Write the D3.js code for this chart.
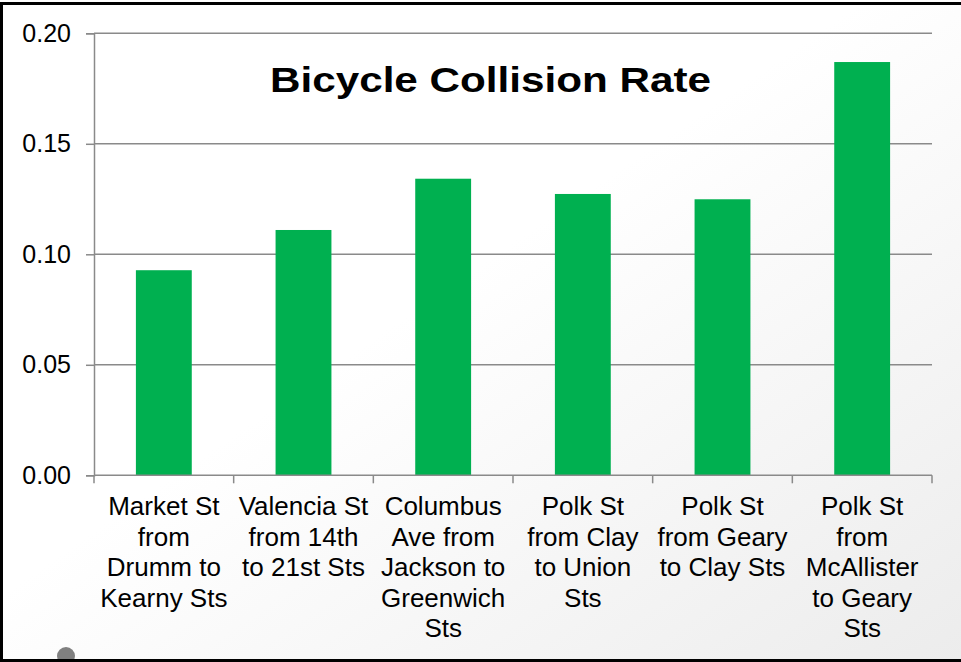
<!DOCTYPE html>
<html>
<head>
<meta charset="utf-8">
<script src="https://cdn.jsdelivr.net/npm/d3@7"></script>
<style>
  html, body { margin: 0; padding: 0; background: #fff; }
  svg { display: block; font-family: "Liberation Sans", Arial, sans-serif; }
</style>
</head>
<body>
<div id="chart"></div>
<script>
// chart data
const categories = [
  ["Market St", "from", "Drumm to", "Kearny Sts"],
  ["Valencia St", "from 14th", "to 21st Sts"],
  ["Columbus", "Ave from", "Jackson to", "Greenwich", "Sts"],
  ["Polk St", "from Clay", "to Union", "Sts"],
  ["Polk St", "from Geary", "to Clay Sts"],
  ["Polk St", "from", "McAllister", "to Geary", "Sts"]
];
const rates = [0.0928, 0.111, 0.1342, 0.1273, 0.1249, 0.187];
const yTicks = [0, 0.05, 0.10, 0.15, 0.20];
const title = "Bicycle Collision Rate";

const width = 961, height = 662;
const margin = {top: 33, right: 29, bottom: 187, left: 94};

const svg = d3.select("#chart").append("svg")
  .attr("width", width)
  .attr("height", height);

// soft diagonal background
let grad = svg.append("defs").append("linearGradient")
  .attr("id", "bg")
  .attr("x1", "0").attr("y1", "0")
  .attr("x2", "1").attr("y2", "1");
grad.append("stop").attr("offset", "0.45").attr("stop-color", "#ffffff");
grad.append("stop").attr("offset", "1").attr("stop-color", "#ececec");

svg.append("rect")
  .attr("width", width).attr("height", height)
  .attr("fill", "url(#bg)");

let x = d3.scaleBand()
  .domain(d3.range(categories.length))
  .range([margin.left, width - margin.right])
  .paddingInner(0.6)
  .paddingOuter(0.3);

let y = d3.scaleLinear()
  .domain([0, 0.2])
  .range([height - margin.bottom + 0.3, margin.top + 0.3]);

// gridlines
svg.append("g")
  .selectAll("line")
  .data(yTicks.slice(1))
  .join("line")
  .attr("x1", margin.left)
  .attr("x2", width - margin.right)
  .attr("y1", d => y(d))
  .attr("y2", d => y(d))
  .attr("stroke", "#8a8a8a")
  .attr("stroke-width", 1.5);

// y axis
let yAxis = svg.append("g")
  .attr("transform", `translate(${margin.left},0)`)
  .call(d3.axisLeft(y).tickValues(yTicks).tickFormat(d3.format(".2f")).tickSize(8).tickPadding(15));
yAxis.select(".domain").attr("stroke", "#8a8a8a").attr("stroke-width", 1.5);
yAxis.selectAll(".tick line").attr("stroke", "#8a8a8a").attr("stroke-width", 1.5);
yAxis.selectAll(".tick text")
  .attr("fill", "#000")
  .style("font-size", "25px")
  .style("font-family", "Liberation Sans, Arial, sans-serif");

// bars
svg.append("g")
  .selectAll("rect")
  .data(rates)
  .join("rect")
  .attr("x", (d, i) => x(i))
  .attr("y", d => y(d))
  .attr("width", x.bandwidth())
  .attr("height", d => y(0) - y(d))
  .attr("fill", "#00b050");

// x axis
let step = (width - margin.right - margin.left) / categories.length;
let xBounds = d3.range(categories.length + 1).map(i => margin.left + i * step);
let xAxis = svg.append("g");
xAxis.append("line")
  .attr("x1", margin.left).attr("x2", width - margin.right)
  .attr("y1", y(0)).attr("y2", y(0))
  .attr("stroke", "#8a8a8a").attr("stroke-width", 1.5);
xAxis.selectAll(".xtick")
  .data(xBounds)
  .join("line")
  .attr("class", "xtick")
  .attr("x1", d => d).attr("x2", d => d)
  .attr("y1", y(0)).attr("y2", y(0) + 8)
  .attr("stroke", "#8a8a8a").attr("stroke-width", 1.5);

// category labels
let labels = svg.append("g")
  .selectAll("text")
  .data(categories)
  .join("text")
  .attr("text-anchor", "middle")
  .attr("fill", "#000")
  .style("font-size", "26px")
  .attr("transform", (d, i) => `translate(${x(i) + x.bandwidth() / 2},${y(0) + 40})`);
labels.selectAll("tspan")
  .data(d => d)
  .join("tspan")
  .attr("x", 0)
  .attr("y", (d, i) => i * 30.5)
  .text(d => d);

// title
svg.append("text")
  .attr("x", 270)
  .attr("y", 92)
  .attr("textLength", 441)
  .attr("lengthAdjust", "spacingAndGlyphs")
  .attr("fill", "#000")
  .style("font-size", "35px")
  .style("font-weight", "bold")
  .text(title);

// slide frame and marker dot
svg.append("circle")
  .attr("cx", 66).attr("cy", 656).attr("r", 9)
  .attr("fill", "#808080");
svg.append("rect")
  .attr("x", 1.5).attr("y", 3.5)
  .attr("width", width + 20).attr("height", 657)
  .attr("fill", "none")
  .attr("stroke", "#000")
  .attr("stroke-width", 3);
</script>
</body>
</html>
